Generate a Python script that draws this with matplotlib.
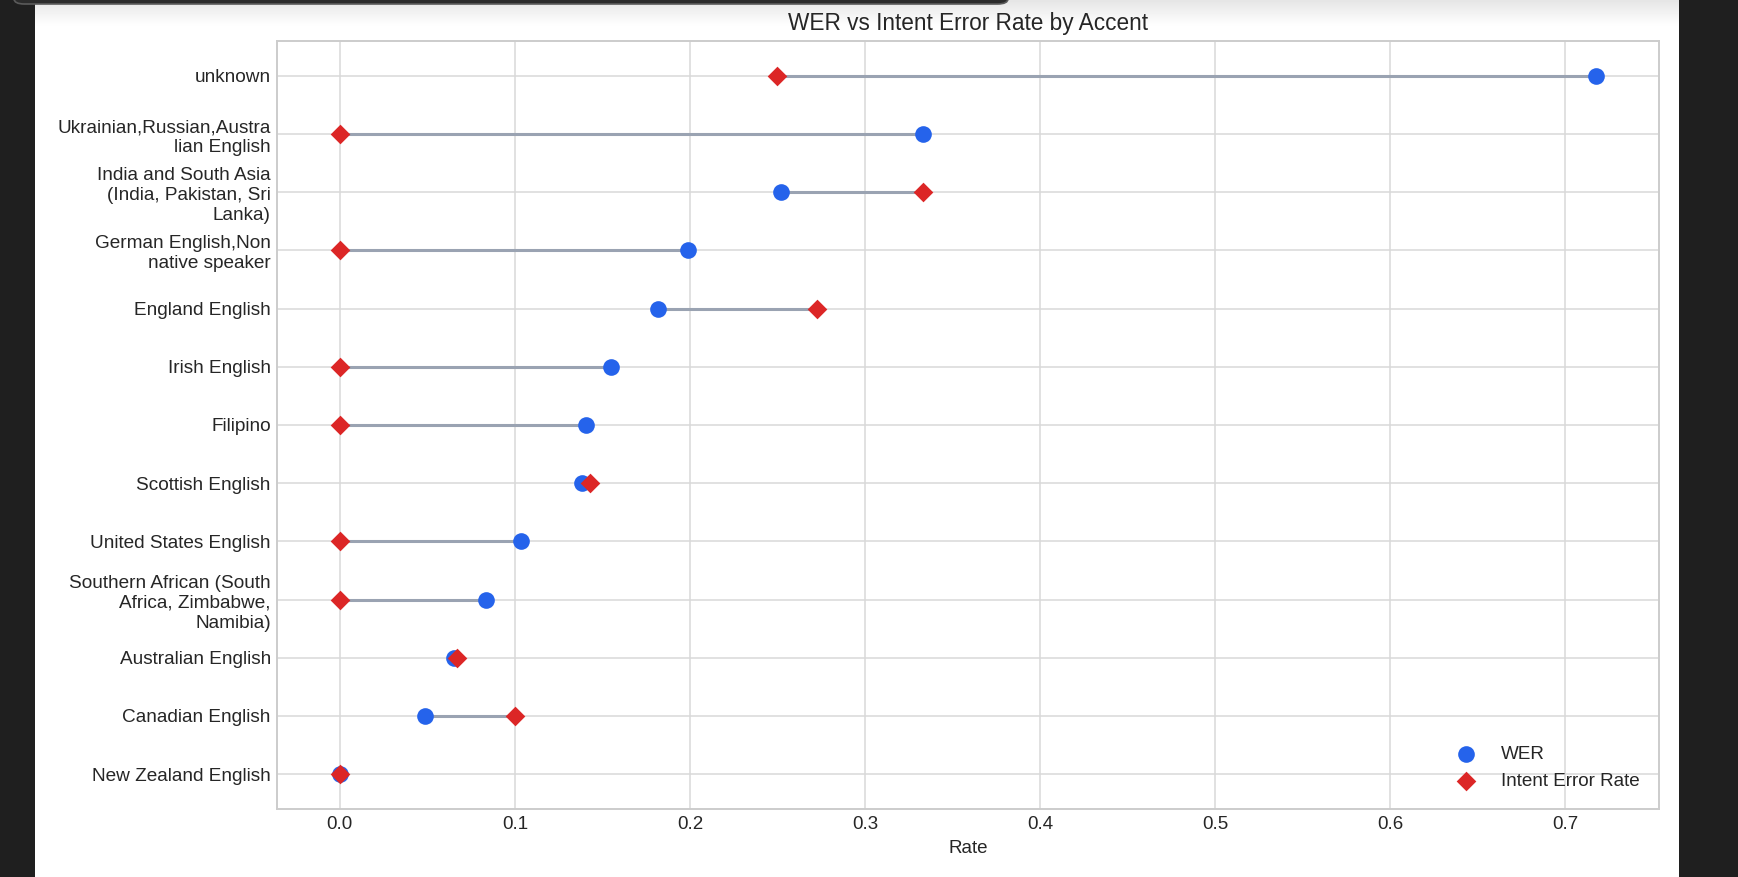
import textwrap
import numpy as np
import matplotlib
matplotlib.use("Agg")
import matplotlib.pyplot as plt
import seaborn as sns
from matplotlib.patches import Rectangle, FancyBboxPatch

# accents, sorted by WER (top row first)
accents = [
    "unknown",
    "Ukrainian,Russian,Australian English",
    "India and South Asia (India, Pakistan, Sri Lanka)",
    "German English,Non native speaker",
    "England English",
    "Irish English",
    "Filipino",
    "Scottish English",
    "United States English",
    "Southern African (South Africa, Zimbabwe, Namibia)",
    "Australian English",
    "Canadian English",
    "New Zealand English",
]
wer = [0.7178, 0.3333, 0.2518, 0.1989, 0.1819, 0.1547, 0.1404, 0.1381,
       0.1038, 0.0834, 0.0650, 0.0486, 0.0]
intent_err = [0.25, 0.0, 0.3333, 0.0, 0.2727, 0.0, 0.0, 0.1429,
              0.0, 0.0, 0.0667, 0.1, 0.0]

sns.set_theme(style="whitegrid")
plt.rcParams['font.family'] = ['Liberation Sans', 'DejaVu Sans']

W, H = 1738, 877
fig = plt.figure(figsize=(W / 100, H / 100), dpi=100)
fig.patch.set_facecolor("white")

# screenshot frame: dark side panels, shadow at top, dark tab
fig.patches.append(Rectangle((0, 0), 35 / W, 1, transform=fig.transFigure,
                             facecolor="#1f1f1f", edgecolor="none", zorder=-5))
fig.patches.append(Rectangle((1679 / W, 0), 1 - 1679 / W, 1, transform=fig.transFigure,
                             facecolor="#1f1f1f", edgecolor="none", zorder=-5))
grad_ax = fig.add_axes([35 / W, 1 - 26 / H, (1679 - 35) / W, 26 / H], zorder=-1)
grad = np.linspace(0.90, 1.0, 50).reshape(-1, 1)
grad_ax.imshow(grad, aspect="auto", cmap="gray", vmin=0, vmax=1, extent=(0, 1, 0, 1))
grad_ax.axis("off")
fig.patches.append(FancyBboxPatch((14 / W, 1 - 4 / H), 994 / W, 12 / H,
                                  boxstyle="round,pad=0,rounding_size=0.006",
                                  transform=fig.transFigure, facecolor="#2b2b2b",
                                  edgecolor="#5a5a5a", linewidth=1.2, zorder=5))

ax = fig.add_axes([277 / W, 1 - 809 / H, (1659 - 277) / W, (809 - 41) / H])

y = np.arange(len(accents))
lo = np.minimum(wer, intent_err)
hi = np.maximum(wer, intent_err)
ax.hlines(y, lo, hi, color="#9aa3b2", linewidth=2.2, zorder=2)
ax.scatter(wer, y, s=144, marker="o", color="#2563eb", label="WER", zorder=3,
           linewidths=0)
ax.scatter(intent_err, y, s=100, marker="D", color="#dc2626",
           label="Intent Error Rate", zorder=4, linewidths=0)

ax.set_yticks(y)
ax.set_yticklabels([textwrap.fill(a, 24) for a in accents], fontsize=13.7,
                   color="#262626", linespacing=1.23)
ax.invert_yaxis()
ax.set_xticks(np.arange(0, 0.71, 0.1))
ax.tick_params(axis="x", labelsize=13.5, colors="#262626", length=0, pad=5)
ax.tick_params(axis="y", length=0, pad=4.5)
ax.set_xlabel("Rate", fontsize=13.5, color="#262626", labelpad=5)
ax.set_title("WER vs Intent Error Rate by Accent", fontsize=16.3, color="#262626", pad=8)

ax.grid(True, color="#d9d9d9", linewidth=1.1)
for sp in ax.spines.values():
    sp.set_color("#cccccc")
    sp.set_linewidth(1.4)

ax.legend(loc="lower right", frameon=False, fontsize=13.6, labelspacing=0.5,
          handletextpad=0.83, borderaxespad=0.62)

fig.savefig("out.png", dpi=100)
